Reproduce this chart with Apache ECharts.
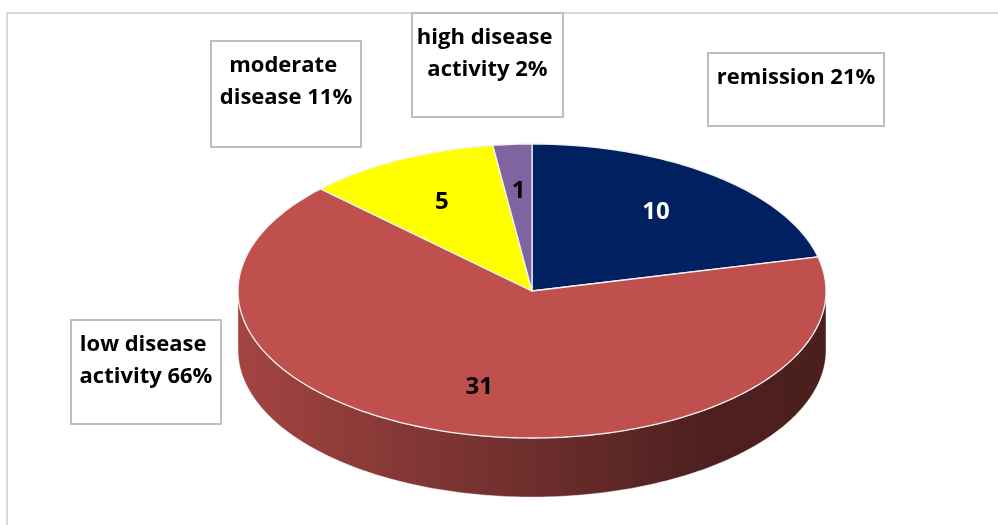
<!DOCTYPE html>
<html>
<head>
<meta charset="utf-8">
<title>Disease activity</title>
<script src="https://cdn.jsdelivr.net/npm/echarts@6/dist/echarts.min.js"></script>
<style>
  html, body { margin: 0; padding: 0; background: #ffffff; }
  #chart { width: 998px; height: 525px; }
</style>
</head>
<body>
<div id="chart"></div>
<script>
// Patients per disease-activity class
const categories = ['remission', 'low disease activity', 'moderate disease', 'high disease activity'];
const patientCounts = [10, 31, 5, 1];

// Styling
const sliceColors = ['#002060', '#C0504D', '#FFFF00', '#8064A2'];
const valueLabelColors = ['#ffffff', '#000000', '#000000', '#000000'];
// callout boxes: [left, top, width, height] in px
const calloutBoxes = [
  [708, 53, 176, 73],
  [71, 320, 150, 104],
  [211, 41, 150, 106],
  [412, 13, 151, 104]
];

const FONT = '"Open Sans", Lato, sans-serif';
// tilted pie geometry (top face ellipse + side thickness), in px
const PIE = { cx: 532, cy: 291, rx: 294, ry: 147, depth: 59, labelR: 0.68 };

const total = patientCounts.reduce((a, b) => a + b, 0);
const startAngles = [];
patientCounts.reduce((acc, v, i) => { startAngles[i] = acc; return acc + v; }, 0);

// scale an #rrggbb colour towards black
function shade(hex, f) {
  const n = parseInt(hex.slice(1), 16);
  const r = Math.round(((n >> 16) & 255) * f);
  const g = Math.round(((n >> 8) & 255) * f);
  const b = Math.round((n & 255) * f);
  return 'rgb(' + r + ',' + g + ',' + b + ')';
}

// angle in degrees, clockwise from 12 o'clock, on the top ellipse
function rim(deg, r, dy) {
  const t = deg * Math.PI / 180;
  return [PIE.cx + PIE.rx * r * Math.sin(t), PIE.cy - PIE.ry * r * Math.cos(t) + (dy || 0)];
}
function arcPoints(a0, a1, dy) {
  const n = Math.max(2, Math.ceil(Math.abs(a1 - a0)));
  const pts = [];
  for (let k = 0; k <= n; k++) pts.push(rim(a0 + (a1 - a0) * k / n, 1, dy));
  return pts;
}

function renderItem(params, api) {
  const i = params.dataIndex;
  const value = api.value(0);
  const a0 = startAngles[i] / total * 360;
  const a1 = (startAngles[i] + value) / total * 360;
  const base = sliceColors[i];
  const children = [];

  // visible front wall of the slice (between 90° and 270°), shaded darker to the right
  const s0 = Math.max(a0, 90), s1 = Math.min(a1, 270);
  if (s1 > s0) {
    const pts = arcPoints(s0, s1, 0).concat(arcPoints(s1, s0, PIE.depth));
    children.push({
      type: 'polygon',
      z2: 1,
      shape: { points: pts },
      style: {
        fill: new echarts.graphic.LinearGradient(PIE.cx - PIE.rx, 0, PIE.cx + PIE.rx, 0, [
          { offset: 0, color: shade(base, 0.85) },
          { offset: 0.5, color: shade(base, 0.57) },
          { offset: 0.8, color: shade(base, 0.4) },
          { offset: 1, color: shade(base, 0.39) }
        ], true),
        stroke: 'rgba(255,255,255,0.5)',
        lineWidth: 0.8
      }
    });
  }

  // top face sector
  const top = [[PIE.cx, PIE.cy]].concat(arcPoints(a0, a1, 0));
  children.push({
    type: 'polygon',
    z2: 5,
    shape: { points: top },
    style: { fill: base, stroke: '#f2f2f2', lineWidth: 1.3, lineJoin: 'round' }
  });

  // value label on the slice
  const mid = (a0 + a1) / 2;
  const lp = rim(mid, PIE.labelR, 0);
  children.push({
    type: 'text',
    z2: 10,
    style: {
      x: lp[0], y: lp[1],
      text: String(value),
      align: 'center', verticalAlign: 'middle',
      fill: valueLabelColors[i],
      font: 'bold 24px ' + FONT
    }
  });

  // category callout box with percentage
  const b = calloutBoxes[i];
  const pct = Math.round(value / total * 100);
  children.push({
    type: 'rect',
    z2: 8,
    shape: { x: b[0], y: b[1], width: b[2], height: b[3] },
    style: { fill: '#ffffff', stroke: '#bfbfbf', lineWidth: 2 }
  });
  children.push({
    type: 'text',
    z2: 9,
    style: {
      x: b[0] + b[2] / 2, y: b[1] + 9,
      text: categories[i] + ' ' + pct + '%',
      width: b[2] - 6,
      overflow: 'break',
      lineHeight: 32,
      align: 'center', verticalAlign: 'top',
      fill: '#000000',
      font: 'bold 22px ' + FONT
    }
  });

  return { type: 'group', children: children };
}

const chart = echarts.init(document.getElementById('chart'), null, { renderer: 'canvas' });
chart.setOption({
  animation: false,
  backgroundColor: '#ffffff',
  graphic: [{
    type: 'rect',
    z: -1,
    shape: { x: 7, y: 13, width: 1020, height: 540 },
    style: { fill: 'none', stroke: '#d9d9d9', lineWidth: 2 }
  }],
  series: [{
    type: 'custom',
    coordinateSystem: 'none',
    renderItem: renderItem,
    data: patientCounts.map((v, i) => ({ name: categories[i], value: [v] }))
  }]
});
</script>
</body>
</html>
